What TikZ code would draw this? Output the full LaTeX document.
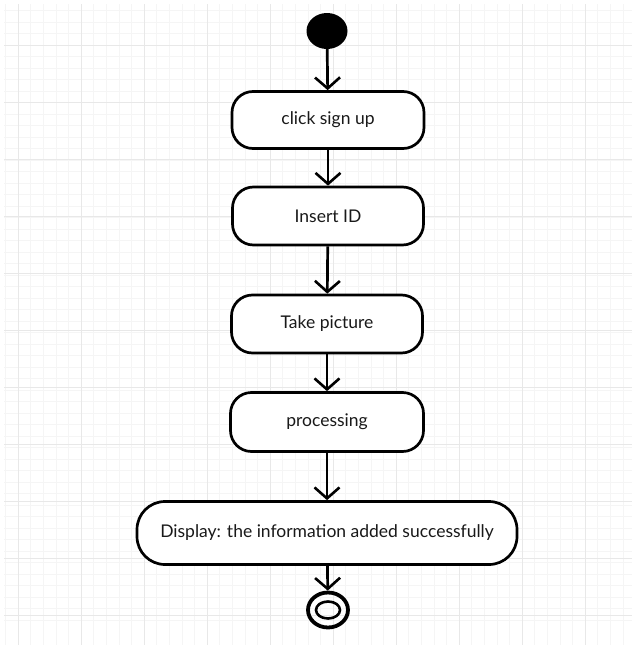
\documentclass[tikz,border=0pt]{standalone}
\usepackage{fontspec}
\setmainfont{Lato}
\usetikzlibrary{arrows.meta,shapes.geometric}
\tikzset{
  act/.style={draw=black, line width=2.7pt, rounded corners=21pt, fill=white,
    inner sep=0pt, font=\fontsize{17.5}{20}\selectfont, text=black!90},
  flow/.style={draw=black, line width=2.7pt, -{Straight Barb[length=11pt,width=25pt,line width=2.6pt]}},
  gridminor/.style={draw=black!4, line width=0.6pt},
  gridmajor/.style={draw=black!9, line width=0.9pt}
}
\begin{document}
\begin{tikzpicture}[x=1pt,y=-1pt]
\useasboundingbox (0,0) rectangle (637,653);
\fill[white] (0,0) rectangle (637,653);
% background grid
\foreach \i in {0,...,49} {
  \draw[gridminor] ({5.4+12.6*\i},4) -- ({5.4+12.6*\i},645);
}
\foreach \i in {0,...,55} {
  \draw[gridminor] (4,{-12.5+11.5*\i}) -- (632,{-12.5+11.5*\i});
}
\foreach \i in {0,...,9} {
  \draw[gridmajor] ({18+63*\i},4) -- ({18+63*\i},645);
}
\foreach \i in {0,...,10} {
  \draw[gridmajor] (4,{45+57*\i}) -- (632,{45+57*\i});
}
% nodes
\node[ellipse, fill=black, inner sep=0pt, minimum width=41pt, minimum height=36pt] (start) at (327,31) {};
\node[act, minimum width=192pt, minimum height=57pt] (b1) at (328,120) {click sign up};
\node[act, minimum width=191pt, minimum height=58pt] (b2) at (328,216) {Insert ID};
\node[act, minimum width=191pt, minimum height=58pt] (b3) at (327,324) {Take picture};
\node[act, minimum width=193pt, minimum height=59pt] (b4) at (327,422) {processing};
\node[act, rounded corners=28pt, minimum width=380pt, minimum height=63pt] (b5) at (327,533) {Display: the information added successfully};
\node[ellipse, draw=black, line width=3.8pt, minimum width=40pt, minimum height=35pt, inner sep=0pt] (end) at (328,610) {};
\node[ellipse, draw=black, line width=2.6pt, minimum width=24pt, minimum height=17pt, inner sep=0pt] (endin) at (end.center) {};
% connectors
\draw[flow] (start) -- (b1);
\draw[flow] (b1) -- (b2);
\draw[flow] (b2) -- (b3);
\draw[flow] (b3) -- (b4);
\draw[flow] (b4) -- (b5);
\draw[flow] (b5) -- (end);
\end{tikzpicture}
\end{document}
